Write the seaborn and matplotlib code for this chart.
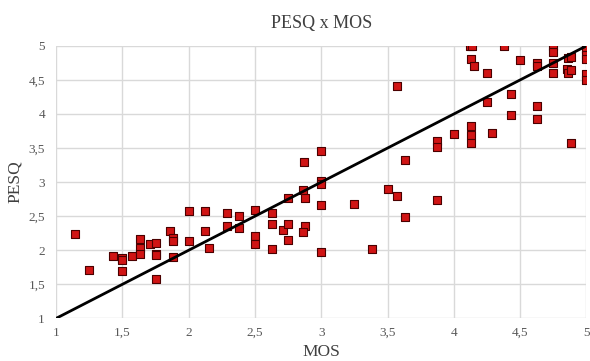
import matplotlib
matplotlib.use("Agg")
import matplotlib.pyplot as plt
import seaborn as sns
import pandas as pd

# MOS vs PESQ
mos = [1.14, 1.25, 1.43, 1.50, 1.50, 1.50, 1.57, 1.63, 1.63, 1.63, 1.71, 1.75, 1.75,
       1.75, 1.75, 1.86, 1.88, 1.88, 1.88, 2.00, 2.00, 2.12, 2.12, 2.15, 2.29, 2.29,
       2.38, 2.38, 2.50, 2.50, 2.50, 2.63, 2.63, 2.63, 2.71, 2.75, 2.75, 2.75, 2.86,
       2.88, 2.88, 2.86, 2.87, 3.00, 3.00, 3.00, 3.00, 3.00, 3.25, 3.38, 3.50, 3.57,
       3.57, 3.63, 3.63, 3.87, 3.87, 3.87, 4.00, 4.13, 4.13, 4.13, 4.13, 4.15, 4.12,
       4.14, 4.25, 4.25, 4.29, 4.38, 4.43, 4.43, 4.50, 4.63, 4.63, 4.63, 4.63, 4.75,
       4.75, 4.75, 4.75, 4.85, 4.86, 4.86, 4.88, 4.88, 4.88, 5.00, 5.00, 5.00, 5.00,
       5.00]
pesq = [2.24, 1.71, 1.92, 1.88, 1.85, 1.70, 1.92, 2.17, 2.03, 1.95, 2.09, 2.10, 1.95,
        1.93, 1.58, 2.28, 2.18, 2.14, 1.90, 2.57, 2.14, 2.58, 2.28, 2.04, 2.54, 2.36,
        2.50, 2.32, 2.59, 2.21, 2.09, 2.55, 2.38, 2.02, 2.30, 2.77, 2.38, 2.15, 2.89,
        2.77, 2.35, 2.27, 3.30, 3.01, 2.97, 2.66, 1.98, 3.45, 2.68, 2.02, 2.90, 2.80,
        4.41, 3.32, 2.49, 3.60, 3.52, 2.74, 3.71, 3.82, 3.69, 3.58, 4.81, 4.71, 5.00,
        5.00, 4.60, 4.17, 3.72, 5.00, 4.30, 3.98, 4.79, 4.75, 4.70, 4.12, 3.92, 5.00,
        4.91, 4.75, 4.60, 4.66, 4.82, 4.60, 4.83, 4.64, 3.58, 4.95, 4.87, 4.80, 4.59,
        4.50]
line_x = [1, 5]
line_y = [1, 5]
ticks = [1, 1.5, 2, 2.5, 3, 3.5, 4, 4.5, 5]
tick_labels = ["1", "1,5", "2", "2,5", "3", "3,5", "4", "4,5", "5"]

df = pd.DataFrame({"MOS": mos, "PESQ": pesq})

sns.set_style("white")
plt.rcParams["font.family"] = ["Liberation Serif", "DejaVu Serif"]

fig = plt.figure(figsize=(5.9, 3.61), dpi=100)
ax = fig.add_axes([0.095, 0.118, 0.899, 0.755])

sns.scatterplot(data=df, x="MOS", y="PESQ", marker="s", s=32, color="#d01414",
                edgecolor="#4a0000", linewidth=0.8, ax=ax, zorder=3)
sns.lineplot(x=line_x, y=line_y, color="black", linewidth=2, ax=ax, zorder=4)

ax.set_xlim(1, 5)
ax.set_ylim(1, 5)
ax.set_xticks(ticks)
ax.set_xticklabels(tick_labels)
ax.set_yticks(ticks)
ax.set_yticklabels(tick_labels)
ax.tick_params(length=0, labelsize=9.5, colors="#595959")
ax.tick_params(axis="y", pad=8)
ax.tick_params(axis="x", pad=6)
ax.grid(True, color="#d9d9d9", linewidth=1)
for s in ax.spines.values():
    s.set_visible(False)

ax.set_title("PESQ x MOS", fontsize=13, color="#404040", pad=13)
ax.set_xlabel("MOS", fontsize=12.5, color="#404040")
ax.set_ylabel("PESQ", fontsize=12.5, color="#404040")
ax.xaxis.set_label_coords(0.5, -0.093)
ax.yaxis.set_label_coords(-0.062, 0.5)

fig.savefig("out.png", dpi=100)
